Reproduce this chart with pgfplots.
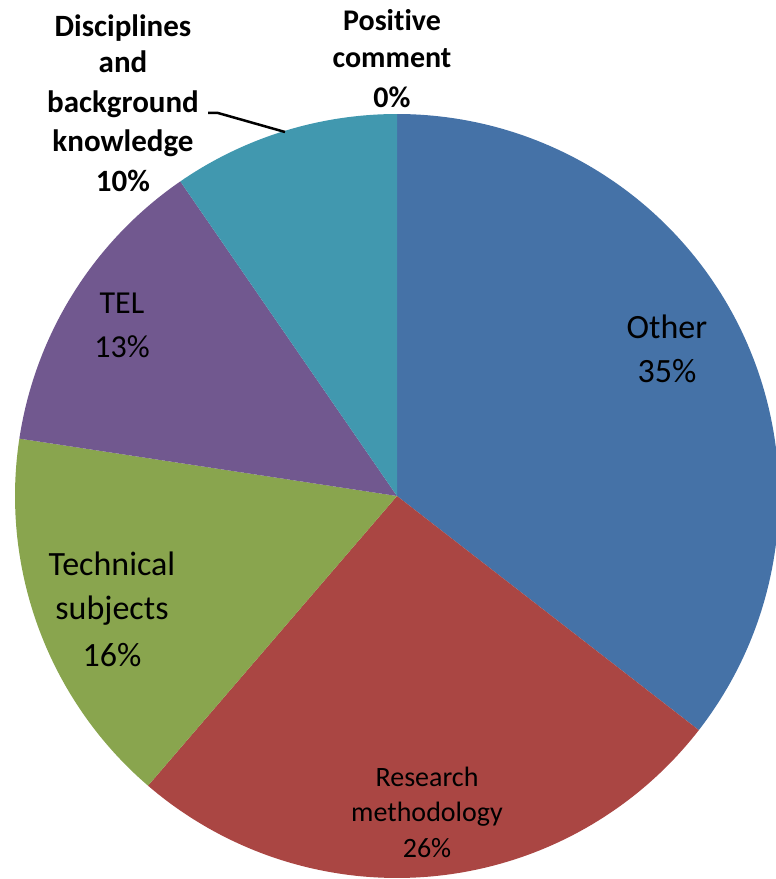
\documentclass[border=0pt]{standalone}
\usepackage{pgfplots}
\pgfplotsset{compat=1.18}
\usepackage{fontspec}
\setmainfont{Carlito}[RawFeature={-liga;-clig;-dlig;-hlig;-calt}]
\definecolor{cOther}{RGB}{69,114,167}
\definecolor{cRes}{RGB}{170,70,67}
\definecolor{cTech}{RGB}{137,165,78}
\definecolor{cTEL}{RGB}{113,88,143}
\definecolor{cDisc}{RGB}{65,152,175}
\definecolor{cPos}{RGB}{219,132,61}
% shares in percent
\def\vOther{35.5}
\def\vRes{25.8}
\def\vTech{16.1}
\def\vTEL{13.0}
\def\vDisc{9.6}
\def\vPos{0.0}
\def\cx{397}
\def\cy{383}
\def\rr{382}
\pgfmathsetmacro\aA{90}
\pgfmathsetmacro\aB{\aA-3.6*\vOther}
\pgfmathsetmacro\aC{\aB-3.6*\vRes}
\pgfmathsetmacro\aD{\aC-3.6*\vTech}
\pgfmathsetmacro\aE{\aD-3.6*\vTEL}
\pgfmathsetmacro\aF{\aE-3.6*\vDisc}
\begin{document}
\begin{tikzpicture}
\begin{axis}[width=776pt,height=879pt,scale only axis,
  xmin=0,xmax=776,ymin=0,ymax=879,enlargelimits=false,
  hide axis,clip=false]
\addplot[fill=cOther,draw=none,domain=\aB:\aA,samples=120] ({\cx+\rr*cos(x)},{\cy+\rr*sin(x)}) -- (axis cs:\cx,\cy) -- cycle;
\addplot[fill=cRes,draw=none,domain=\aC:\aB,samples=100] ({\cx+\rr*cos(x)},{\cy+\rr*sin(x)}) -- (axis cs:\cx,\cy) -- cycle;
\addplot[fill=cTech,draw=none,domain=\aD:\aC,samples=80] ({\cx+\rr*cos(x)},{\cy+\rr*sin(x)}) -- (axis cs:\cx,\cy) -- cycle;
\addplot[fill=cTEL,draw=none,domain=\aE:\aD,samples=60] ({\cx+\rr*cos(x)},{\cy+\rr*sin(x)}) -- (axis cs:\cx,\cy) -- cycle;
\addplot[fill=cDisc,draw=none,domain=\aF:\aE,samples=50] ({\cx+\rr*cos(x)},{\cy+\rr*sin(x)}) -- (axis cs:\cx,\cy) -- cycle;
% leader line for Disciplines label
\addplot[black,line width=2.5pt] coordinates {(208,766) (218,766) (285,747)};
% labels
\begin{scope}[every node/.style={anchor=base,inner sep=0pt}]
\node[font=\fontsize{34}{40}\selectfont] at (axis cs:667,540) {Other};
\node[font=\fontsize{34}{40}\selectfont] at (axis cs:667,496) {35\%};
\node[font=\fontsize{28}{34}\selectfont] at (axis cs:427,92) {Research};
\node[font=\fontsize{28}{34}\selectfont] at (axis cs:427,57) {methodology};
\node[font=\fontsize{28}{34}\selectfont] at (axis cs:427,21) {26\%};
\node[font=\fontsize{34}{40}\selectfont] at (axis cs:112,303) {Technical};
\node[font=\fontsize{34}{40}\selectfont] at (axis cs:112,259) {subjects};
\node[font=\fontsize{34}{40}\selectfont] at (axis cs:112,212) {16\%};
\node[font=\fontsize{32}{40}\selectfont] at (axis cs:122,565) {TEL};
\node[font=\fontsize{32}{40}\selectfont] at (axis cs:122,521) {13\%};
\node[font=\bfseries\fontsize{31}{38}\selectfont] at (axis cs:123,842) {Disciplines};
\node[font=\bfseries\fontsize{31}{38}\selectfont] at (axis cs:123,806) {and};
\node[font=\bfseries\fontsize{31}{38}\selectfont] at (axis cs:123,766) {background};
\node[font=\bfseries\fontsize{31}{38}\selectfont] at (axis cs:123,727) {knowledge};
\node[font=\bfseries\fontsize{31}{38}\selectfont] at (axis cs:123,687) {10\%};
\node[font=\bfseries\fontsize{30}{38}\selectfont] at (axis cs:392,848) {Posi\kern0pt tive};
\node[font=\bfseries\fontsize{30}{38}\selectfont] at (axis cs:392,811) {comment};
\node[font=\bfseries\fontsize{30}{38}\selectfont] at (axis cs:392,771) {0\%};
\end{scope}
\end{axis}
\pgfresetboundingbox
\useasboundingbox (0,0) rectangle (776pt,879pt);
\end{tikzpicture}
\end{document}
